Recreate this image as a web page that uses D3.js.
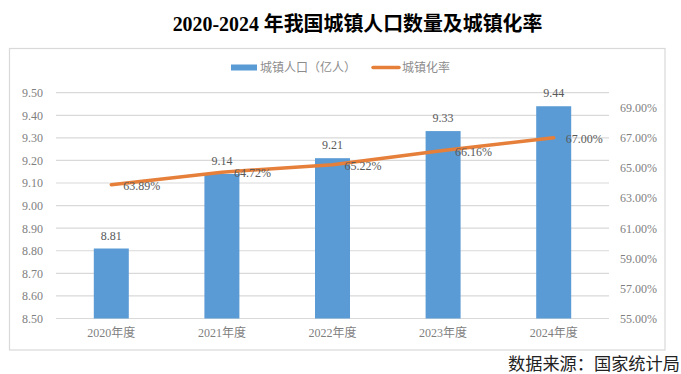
<!DOCTYPE html>
<html>
<head>
<meta charset="utf-8">
<script src="https://cdn.jsdelivr.net/npm/d3@7"></script>
<style>
    html, body { margin: 0; padding: 0; background: #fff; }
    svg { display: block; }
    text { font-family: "Liberation Serif", "Noto Sans CJK SC", serif; }
</style>
</head>
<body>
<div id="chart"></div>
<script>
const years = ["2020年度", "2021年度", "2022年度", "2023年度", "2024年度"];
const population = [8.81, 9.14, 9.21, 9.33, 9.44];
const urbanRate = [63.89, 64.72, 65.22, 66.16, 67.00];
const leftTicks = [8.5, 8.6, 8.7, 8.8, 8.9, 9.0, 9.1, 9.2, 9.3, 9.4, 9.5];
const rightTicks = [55, 57, 59, 61, 63, 65, 67, 69];

const width = 681;
const height = 374;
const grey = "#7f7f7f";

const svg = d3.select("#chart").append("svg")
    .attr("width", width)
    .attr("height", height);

// Title
svg.append("text")
    .attr("x", 357.5)
    .attr("y", 31)
    .attr("text-anchor", "middle")
    .attr("font-size", 19.9)
    .attr("font-weight", "bold")
    .attr("fill", "#000")
    .text("2020-2024 年我国城镇人口数量及城镇化率");

// Outer frame
svg.append("rect")
    .attr("x", 9.5)
    .attr("y", 48.5)
    .attr("width", 655.5)
    .attr("height", 301.5)
    .attr("fill", "#fff")
    .attr("stroke", "#d9d9d9")
    .attr("stroke-width", 1.2);

// Scales
const x = d3.scaleBand().domain(years).range([56, 609]);
const yLeft = d3.scaleLinear().domain([8.5, 9.5]).range([318.5, 92.7]);
const yRight = d3.scaleLinear().domain([55, 70]).range([318.5, 92.7]);
const barWidth = 35;

// Gridlines
svg.append("g")
    .selectAll("line")
    .data(leftTicks)
    .enter()
    .append("line")
    .attr("x1", 56)
    .attr("x2", 609)
    .attr("y1", d => yLeft(d))
    .attr("y2", d => yLeft(d))
    .attr("stroke", "#d9d9d9")
    .attr("stroke-width", 1.2);

// Left axis
const leftAxis = svg.append("g")
    .attr("transform", "translate(56,0)")
    .call(d3.axisLeft(yLeft).tickValues(leftTicks).tickFormat(d3.format(".2f")).tickSize(0).tickPadding(13));
leftAxis.select(".domain").remove();
leftAxis.selectAll("text")
    .attr("font-size", 12)
    .attr("font-family", "Liberation Serif")
    .attr("fill", grey);

// Right axis
const rightAxis = svg.append("g")
    .attr("transform", "translate(609,0)")
    .call(d3.axisRight(yRight).tickValues(rightTicks).tickFormat(d => d.toFixed(2) + "%").tickSize(0).tickPadding(11));
rightAxis.select(".domain").remove();
rightAxis.selectAll("text")
    .attr("font-size", 12)
    .attr("font-family", "Liberation Serif")
    .attr("fill", grey);

// Bottom axis
const bottomAxis = svg.append("g")
    .attr("transform", "translate(0,318.5)")
    .call(d3.axisBottom(x).tickSize(0).tickPadding(10));
bottomAxis.select(".domain").remove();
bottomAxis.selectAll("text")
    .attr("font-size", 12)
    .attr("font-family", "Liberation Serif, Noto Sans CJK SC")
    .attr("fill", grey);

// Bars
svg.append("g")
    .selectAll("rect")
    .data(years)
    .enter()
    .append("rect")
    .attr("x", d => x(d) + x.bandwidth() / 2 - barWidth / 2)
    .attr("y", (d, i) => yLeft(population[i]))
    .attr("width", barWidth)
    .attr("height", (d, i) => yLeft(8.5) - yLeft(population[i]))
    .attr("fill", "#5b9bd5");

// Bar labels
svg.append("g")
    .selectAll("text")
    .data(years)
    .enter()
    .append("text")
    .attr("x", d => x(d) + x.bandwidth() / 2)
    .attr("y", (d, i) => yLeft(population[i]) - 9)
    .attr("text-anchor", "middle")
    .attr("font-size", 12)
    .attr("fill", "#595959")
    .text((d, i) => population[i].toFixed(2));

// Rate line
const line = d3.line()
    .x(d => x(d) + x.bandwidth() / 2)
    .y((d, i) => yRight(urbanRate[i]));

svg.append("path")
    .attr("d", line(years))
    .attr("fill", "none")
    .attr("stroke", "#e57f3a")
    .attr("stroke-width", 3.5)
    .attr("stroke-linecap", "round");

// Rate labels sit just right of each point
svg.append("g")
    .selectAll("text")
    .data(years)
    .enter()
    .append("text")
    .attr("x", d => x(d) + x.bandwidth() / 2 + 12)
    .attr("y", (d, i) => yRight(urbanRate[i]) + 5)
    .attr("font-size", 12)
    .attr("fill", "#595959")
    .text((d, i) => urbanRate[i].toFixed(2) + "%");

// Legend
svg.append("rect")
    .attr("x", 231)
    .attr("y", 64.5)
    .attr("width", 26)
    .attr("height", 6)
    .attr("fill", "#5b9bd5");
svg.append("text")
    .attr("x", 260)
    .attr("y", 71.5)
    .attr("font-size", 12)
    .attr("fill", "#8c8c8c")
    .text("城镇人口（亿人）");
svg.append("line")
    .attr("x1", 373)
    .attr("x2", 399)
    .attr("y1", 67.5)
    .attr("y2", 67.5)
    .attr("stroke", "#e57f3a")
    .attr("stroke-width", 3.5)
    .attr("stroke-linecap", "round");
svg.append("text")
    .attr("x", 402)
    .attr("y", 71.5)
    .attr("font-size", 12)
    .attr("fill", "#8c8c8c")
    .text("城镇化率");

// Source note
svg.append("text")
    .attr("x", 508)
    .attr("y", 370)
    .attr("font-size", 17.2)
    .attr("fill", "#222")
    .text("数据来源：国家统计局");
</script>
</body>
</html>
